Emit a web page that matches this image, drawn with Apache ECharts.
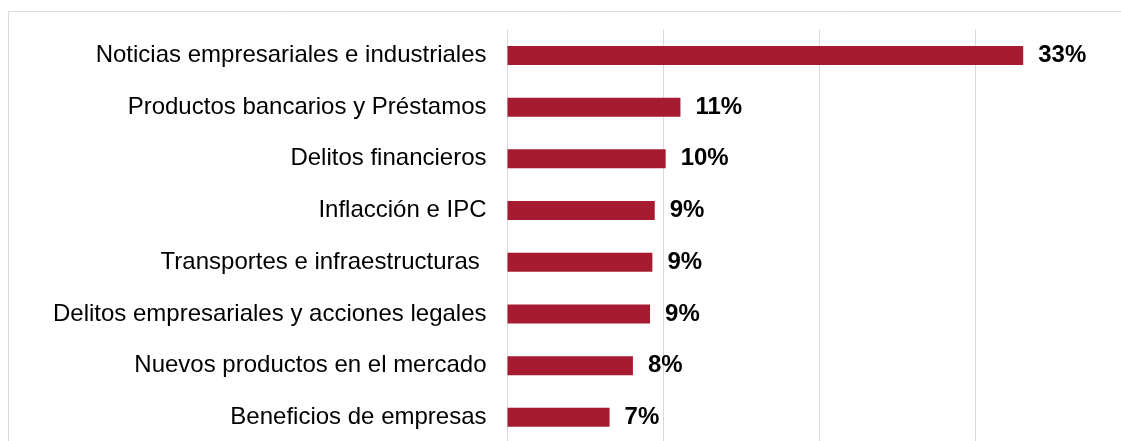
<!DOCTYPE html>
<html>
<head>
<meta charset="utf-8">
<script src="https://cdn.jsdelivr.net/npm/echarts@6/dist/echarts.min.js"></script>
<style>
  html, body { margin: 0; padding: 0; background: #fff; }
  #chart { width: 1121px; height: 441px; }
</style>
</head>
<body>
<div id="chart"></div>
<script>
// temas de noticias
const categories = [
  "Noticias empresariales e industriales",
  "Productos bancarios y Préstamos",
  "Delitos financieros",
  "Inflacción e IPC",
  "Transportes e infraestructuras ",
  "Delitos empresariales y acciones legales",
  "Nuevos productos en el mercado",
  "Beneficios de empresas"
]
// porcentaje
const values = [33.1, 11.1, 10.15, 9.45, 9.3, 9.15, 8.05, 6.55]

const chart = echarts.init(document.getElementById("chart"))
const option = {
  animation: false,
  textStyle: { fontFamily: "Liberation Sans, Arial, sans-serif" },
  graphic: [
    {
      type: "rect",
      shape: { x: 8.5, y: 11.5, width: 1200, height: 500 },
      style: { fill: "none", stroke: "#d9d9d9", lineWidth: 1 },
      silent: true
    }
  ],
  grid: {
    left: 507.5, top: 29.6, width: 623.2, height: 413.6,
    outerBoundsMode: "none"
  },
  xAxis: {
    type: "value",
    min: 0,
    max: 40,
    interval: 10,
    axisLine: { show: false },
    axisTick: { show: false },
    axisLabel: { show: false },
    splitLine: { lineStyle: { color: "#d9d9d9", width: 1 } }
  },
  yAxis: {
    type: "category",
    inverse: true,
    data: categories,
    axisLine: { show: false },
    axisTick: { show: false },
    axisLabel: {
      margin: 21,
      fontSize: 24,
      color: "#000"
    }
  },
  series: [
    {
      type: "bar",
      data: values,
      barWidth: 19,
      itemStyle: { color: "#a61b30" },
      label: {
        show: true,
        position: "right",
        distance: 15,
        fontSize: 24,
        fontWeight: "bold",
        color: "#000",
        formatter: p => Math.round(p.value) + "%"
      }
    }
  ]
}
chart.setOption(option)
</script>
</body>
</html>
